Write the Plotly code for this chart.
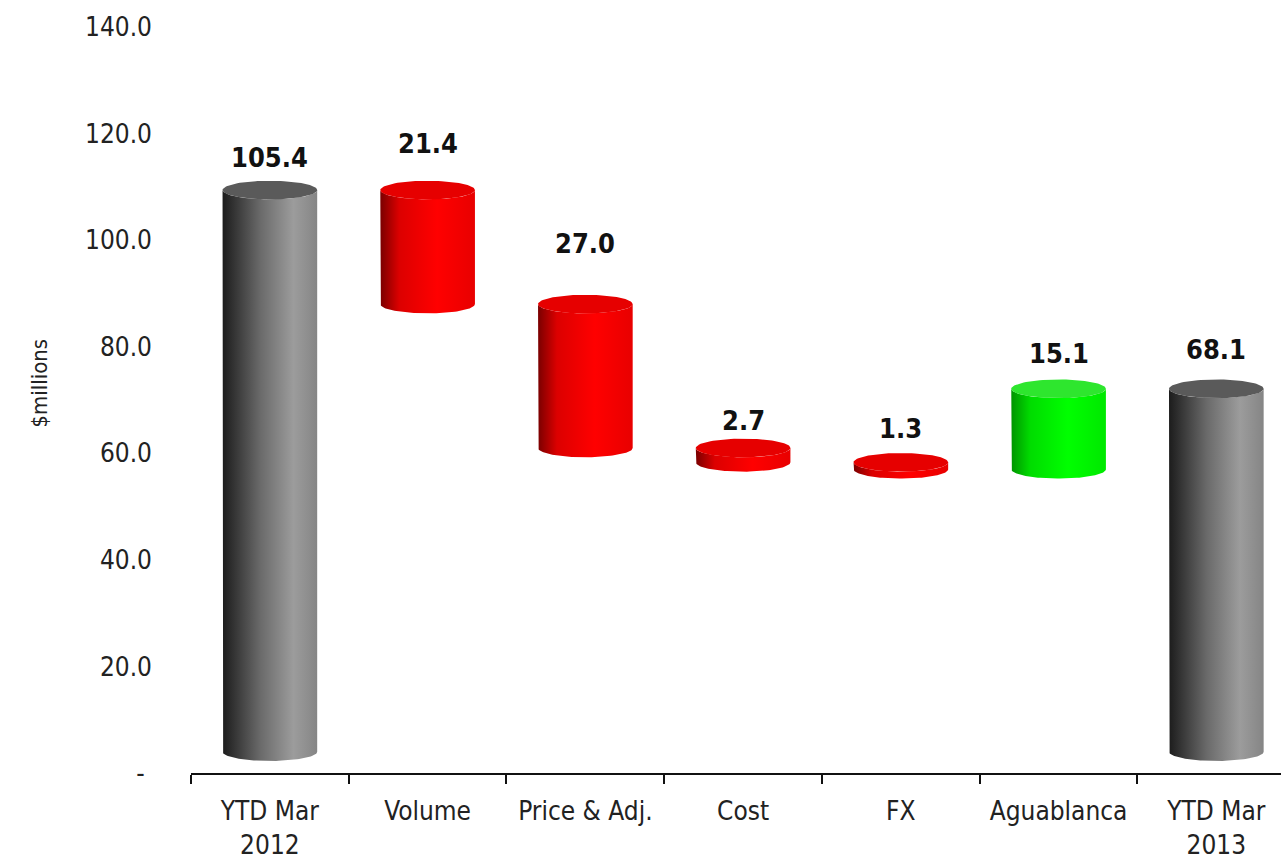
import numpy as np
import plotly.graph_objects as go

# ---- data ----
categories = ["YTD Mar<br>2012", "Volume", "Price & Adj.", "Cost", "FX", "Aguablanca", "YTD Mar<br>2013"]
kinds = ["total", "delta", "delta", "delta", "delta", "delta", "total"]
values = [105.4, -21.4, -27.0, -2.7, -1.3, 15.1, 68.1]
y_ticks = [0, 20, 40, 60, 80, 100, 120, 140]
y_tick_text = ["- ", "20.0", "40.0", "60.0", "80.0", "100.0", "120.0", "140.0"]

# ---- style ----
HALF_W = 0.3          # cylinder radius in category units
ELL_B = 1.75          # half height of the elliptical caps in $m
FLOOR_LIFT = 4.0      # 3D floor depth, lifts every cylinder
LABEL_LIFT = [10.2, 12.8, 15.4, 9.2, 10.4, 10.7, 11.3]
NARROW = "Liberation Sans Narrow, Arial Narrow, DejaVu Sans Condensed, sans-serif"

palettes = {
    "total": dict(body=[[0, "#1c1c1c"], [0.4, "#6a6a6a"], [0.75, "#9c9c9c"], [1, "#858585"]],
                  cap="#5a5a5a"),
    "down": dict(body=[[0, "#7a0000"], [0.2, "#dc0000"], [0.6, "#ff0000"], [1, "#e80000"]],
                 cap="#e60000"),
    "up": dict(body=[[0, "#009400"], [0.2, "#00dc00"], [0.6, "#00ff00"], [1, "#00e800"]],
               cap="#2ee62e"),
}

# running waterfall extents
lows, highs, styles = [], [], []
running = 0.0
for k, v in zip(kinds, values):
    if k == "total":
        lo, hi = 0.0, v
        running = v
        styles.append("total")
    else:
        lo, hi = sorted([running, running + v])
        running += v
        styles.append("up" if v > 0 else "down")
    lows.append(lo)
    highs.append(hi)

fig = go.Figure()
t = np.linspace(0, np.pi, 60)

for i, (lo, hi, st) in enumerate(zip(lows, highs, styles)):
    pal = palettes[st]
    y0, y1 = lo + FLOOR_LIFT, hi + FLOOR_LIFT
    # body: left side down, front half of bottom cap, right side up, front half of top cap back
    bx = np.concatenate([[i - HALF_W], i - HALF_W * np.cos(t), [i + HALF_W], i + HALF_W * np.cos(t)])
    by = np.concatenate([[y1], y0 - ELL_B * np.sin(t), [y1], y1 - ELL_B * np.sin(t)])
    fig.add_trace(go.Scatter(
        x=bx, y=by, mode="lines", fill="toself", line=dict(width=0),
        fillgradient=dict(type="horizontal", colorscale=pal["body"]),
        hoverinfo="skip", showlegend=False))
    # top cap
    tt = np.linspace(0, 2 * np.pi, 90)
    fig.add_trace(go.Scatter(
        x=i + HALF_W * np.cos(tt), y=y1 + ELL_B * np.sin(tt), mode="lines", fill="toself",
        line=dict(width=0), fillcolor=pal["cap"], hoverinfo="skip", showlegend=False))

# value labels
for i, (v, hi) in enumerate(zip(values, highs)):
    fig.add_annotation(x=i, y=hi + LABEL_LIFT[i], text=f"{abs(v):.1f}", showarrow=False,
                       font=dict(family=NARROW, size=27, color="#111111", weight="bold"),
                       xanchor="center", yanchor="middle")

fig.add_annotation(xref="paper", yref="paper", x=-0.152, y=0.523, text="$millions",
                   textangle=-90, showarrow=False,
                   font=dict(family=NARROW, size=22, color="#222222"))

fig.update_layout(
    width=1281, height=860,
    margin=dict(l=191, r=0, t=27, b=87),
    paper_bgcolor="white", plot_bgcolor="white",
    xaxis=dict(range=[-0.5, 6.41], tickvals=list(range(len(categories))), ticktext=categories,
               ticks="", showgrid=False, zeroline=False, showline=True, linecolor="#111111",
               linewidth=2, ticklabelstandoff=14, automargin=False,
               tickfont=dict(family=NARROW, size=26, color="#222222"),
               minor=dict(tickvals=[k - 0.5 for k in range(len(categories))], ticks="outside",
                          ticklen=9, tickwidth=2, tickcolor="#111111")),
    yaxis=dict(range=[0, 140], tickvals=y_ticks, ticktext=y_tick_text, showgrid=False,
               zeroline=False, showline=False, ticks="", ticklabelstandoff=38, automargin=False,
               tickfont=dict(family=NARROW, size=26, color="#222222")),
)

fig.write_html("out.html")
